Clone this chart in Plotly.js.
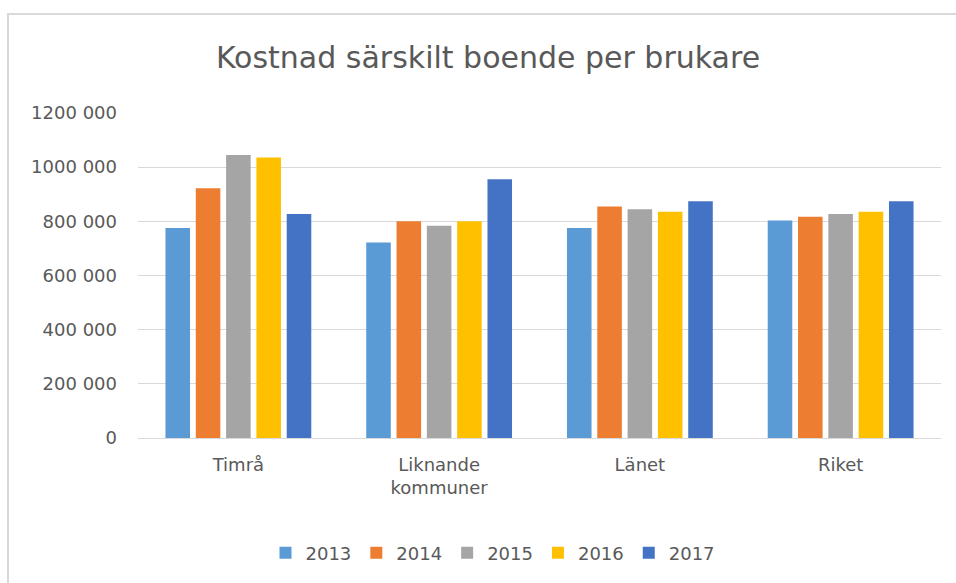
<!DOCTYPE html>
<html>
<head>
<meta charset="utf-8">
<script src="https://cdn.plot.ly/plotly-3.0.1.min.js"></script>
<style>
html,body{margin:0;padding:0;background:#fff;overflow:hidden;}
#wrap{position:relative;width:956px;height:583px;}
#chart{position:absolute;left:0;top:0;width:956px;height:583px;}
#frame{position:absolute;left:7px;top:13px;width:1200px;height:800px;border-left:2px solid #d9d9d9;border-top:2px solid #d9d9d9;pointer-events:none;}
</style>
</head>
<body>
<div id="wrap"><div id="chart"></div><div id="frame"></div></div>
<script>
const categories = ["Timrå", "Liknande<br>kommuner", "Länet", "Riket"];
const years = ["2013", "2014", "2015", "2016", "2017"];
const values2013 = [775000, 722000, 775000, 803000];
const values2014 = [922000, 800000, 855000, 817000];
const values2015 = [1045000, 784000, 845000, 827000];
const values2016 = [1036000, 800000, 835000, 835000];
const values2017 = [827000, 955000, 874000, 874000];
const tickVals = [0, 200000, 400000, 600000, 800000, 1000000, 1200000];
const tickLabels = ["0", "200 000", "400 000", "600 000", "800 000", "1000 000", "1200 000"];
const colors = ["#5B9BD5", "#ED7D31", "#A5A5A5", "#FFC000", "#4472C4"];

const series = [values2013, values2014, values2015, values2016, values2017];
const FONT = "DejaVu Sans, sans-serif";
const TXT = "#595959";

const traces = series.map((vals, i) => ({
  type: "bar",
  name: years[i],
  x: categories,
  y: vals,
  marker: {color: colors[i], line: {width: 0}},
  hoverinfo: "skip"
}));

const layout = {
  width: 956,
  height: 583,
  paper_bgcolor: "#ffffff",
  plot_bgcolor: "#ffffff",
  margin: {l: 138, r: 15, t: 113, b: 145, pad: 0},
  barmode: "group",
  bargap: 0.245,
  bargroupgap: 0.19,
  title: {
    text: "Kostnad särskilt boende per brukare",
    font: {family: FONT, size: 30, color: TXT},
    x: 488 / 956, xanchor: "center", xref: "container",
    y: 1 - 57 / 583, yanchor: "middle", yref: "container"
  },
  xaxis: {
    showgrid: false,
    showline: false,
    zeroline: false,
    ticks: "",
    tickfont: {family: FONT, size: 18, color: TXT},
    ticklabelstandoff: 14,
    fixedrange: true
  },
  yaxis: {
    range: [0, 1200000],
    tickvals: tickVals,
    ticktext: tickLabels,
    showgrid: true,
    gridcolor: "#d9d9d9",
    gridwidth: 1,
    zeroline: true,
    zerolinecolor: "#d9d9d9",
    zerolinewidth: 1,
    showline: false,
    ticks: "",
    tickfont: {family: FONT, size: 18, color: TXT},
    ticklabelstandoff: 20,
    fixedrange: true
  },
  showlegend: true,
  legend: {
    orientation: "h",
    xref: "container", yref: "container",
    x: 493 / 956, xanchor: "center",
    y: 1 - 553 / 583, yanchor: "middle",
    font: {family: FONT, size: 18, color: TXT},
    itemwidth: 30,
    tracegroupgap: 0,
    bgcolor: "rgba(0,0,0,0)"
  }
};

Plotly.newPlot("chart", traces, layout, {displayModeBar: false, staticPlot: true});
</script>
</body>
</html>
